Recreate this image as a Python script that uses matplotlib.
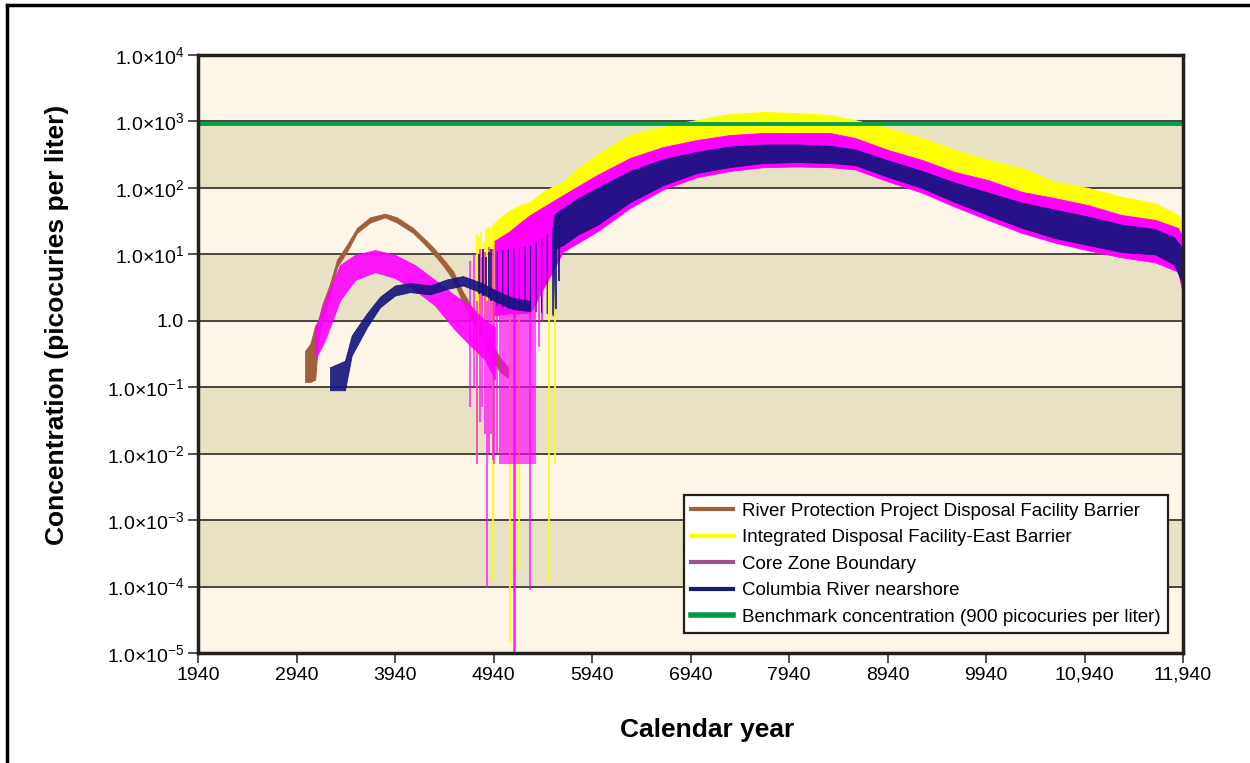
import numpy as np
import matplotlib.pyplot as plt
from matplotlib.lines import Line2D

plt.rcParams['font.family'] = ['Liberation Sans', 'DejaVu Sans']
plt.rcParams['mathtext.fontset'] = 'custom'
plt.rcParams['mathtext.rm'] = 'Liberation Sans'
plt.rcParams['mathtext.default'] = 'regular'
plt.rcParams['hatch.linewidth'] = 0.8

# ---- River Protection Project Disposal Facility Barrier (brown) ----
rpp_years = [3026, 3080, 3130, 3160, 3199, 3280, 3351, 3453, 3554, 3686, 3838, 3960,
             4123, 4224, 4326, 4427, 4529, 4620, 4701, 4803, 4904, 5006, 5087]
rpp_high = [0.35, 0.45, 0.85, 1.0, 1.7, 3.6, 8.3, 14, 25, 36, 41, 36,
            25, 18, 12.8, 8.6, 5.6, 2.9, 1.8, 0.9, 0.5, 0.28, 0.2]
rpp_low = [0.12, 0.12, 0.13, 0.5, 0.9, 2.4, 6.4, 11, 21, 30, 36, 30,
           21, 15, 10.3, 6.8, 4.2, 2.0, 1.15, 0.58, 0.3, 0.17, 0.14]

# ---- Integrated Disposal Facility-East Barrier (yellow) ----
idf_years = [4935, 5000, 5100, 5210, 5310, 5450, 5646, 5800, 5991, 6150, 6326, 6500,
             6661, 6830, 7006, 7170, 7341, 7676, 8021, 8356, 8610, 8945, 9290, 9625,
             9960, 10305, 10640, 10975, 11320, 11656, 11889, 11940]
idf_high = [28, 35, 45, 55, 61, 90, 123, 200, 313, 450, 625, 740,
            824, 950, 1052, 1180, 1294, 1387, 1340, 1250, 1052, 796, 563, 372,
            263, 199, 123, 100, 73, 59, 39, 30]
idf_low = [1.0, 2, 5, 10, 14, 20, 40, 60, 100, 150, 200, 260,
           300, 350, 400, 450, 480, 520, 520, 500, 420, 300, 200, 140,
           100, 70, 55, 42, 32, 26, 19, 15]
idf_spike_years = [4772, 4790, 4815, 4840, 4862, 4885, 4905, 4935, 5107, 5199, 5503, 5564]
idf_spike_low = [0.008, 0.3, 1.0, 0.6, 1.5, 2.0, 1.0, 1.25e-4, 1.4e-5, 1.8e-4, 1.2e-4, 0.007]
idf_spike_high = [20, 18, 22, 16, 24, 26, 25, 28, 40, 50, 80, 100]

# ---- Core Zone Boundary (magenta) ----
czb_old_years = [3128, 3229, 3382, 3534, 3737, 3940, 4143, 4346, 4549, 4701, 4854, 4955]
czb_old_high = [0.73, 2.05, 6.9, 9.8, 11.6, 9.8, 6.9, 4.1, 2.4, 1.7, 1.0, 0.8]
czb_old_low = [0.26, 0.51, 2.05, 4.1, 5.4, 4.4, 2.9, 1.7, 0.73, 0.43, 0.26, 0.13]
czb_years = [4950, 5100, 5210, 5310, 5646, 5991, 6326, 6661, 7006, 7341, 7676, 8021,
             8356, 8610, 8945, 9290, 9625, 9960, 10305, 10640, 10975, 11320, 11656,
             11889, 11940]
czb_high = [16, 22, 30, 39, 78, 156, 282, 412, 526, 625, 670, 670,
            670, 563, 372, 263, 173, 131, 87, 70, 55, 39, 33, 25, 18]
czb_low = [1.2, 1.3, 1.3, 1.3, 11, 22, 50, 95, 145, 180, 205, 210,
           205, 190, 125, 85, 52, 33, 21, 15, 11.5, 9, 7.6, 5.5, 2.5]
czb_block_years = [5000, 5370]
czb_block_high = [3, 3]
czb_block_low = [0.007, 0.007]
czb_spike_years = [4700, 4740, 4772, 4800, 4820, 4850, 4873, 4890, 4910, 4930, 4950,
                   4975, 5148, 5160, 5310, 5400, 5430]
czb_spike_low = [0.05, 0.1, 0.007, 0.03, 0.05, 0.02, 9.5e-5, 0.01, 0.02, 0.008, 0.007,
                 0.01, 1e-5, 1e-5, 9e-5, 0.4, 1.0]
czb_spike_high = [8, 10, 2, 12, 9, 11, 2, 13, 3, 12, 3, 14, 3, 3, 3, 10, 20]

# ---- Columbia River nearshore (navy) ----
crn_old_years = [3280, 3432, 3500, 3656, 3788, 3940, 4092, 4295, 4468, 4630, 4803,
                 4975, 5138, 5310]
crn_old_high = [0.2, 0.25, 0.6, 1.3, 2.3, 3.4, 3.7, 3.4, 4.2, 4.7, 3.8, 2.8, 2.2, 2.0]
crn_old_low = [0.09, 0.09, 0.3, 0.8, 1.6, 2.4, 2.7, 2.5, 3.0, 3.4, 2.7, 1.9, 1.5, 1.4]
crn_block_years = [4935, 5100, 5300, 5450, 5545]
crn_block_high = [11, 12, 13, 18, 26]
crn_block_low = [1.7, 1.5, 1.4, 1.3, 1.2]
crn_years = [5545, 5560, 5646, 5800, 5991, 6326, 6661, 7006,
             7341, 7676, 8021, 8356, 8610, 8945, 9290, 9625, 9960, 10305, 10640,
             10975, 11320, 11656, 11850, 11940]
crn_high = [30, 40, 50, 70, 100, 180, 270, 350,
            420, 450, 450, 430, 380, 260, 180, 120, 85, 60, 47,
            37, 28, 24, 18, 12]
crn_low = [1.2, 12, 13.8, 20, 27.6, 61, 110, 168,
           206, 237, 245, 237, 221, 146, 100, 61, 39, 25, 17.6,
           13.8, 10.8, 10, 7, 3.5]
crn_spike_years = [4790, 4830, 4860, 4890, 4915, 5570, 5600]
crn_spike_low = [2.5, 2.4, 2.6, 2.2, 2.0, 1.5, 4]
crn_spike_high = [10, 12, 9, 11, 12, 40, 45]

benchmark = 900
decades = [1e-5, 1e-4, 1e-3, 1e-2, 1e-1, 1, 10, 100, 1000, 10000]
decade_labels = [r'1.0$\times$10$^{-5}$', r'1.0$\times$10$^{-4}$', r'1.0$\times$10$^{-3}$',
                 r'1.0$\times$10$^{-2}$', r'1.0$\times$10$^{-1}$', '1.0',
                 r'1.0$\times$10$^{1}$', r'1.0$\times$10$^{2}$', r'1.0$\times$10$^{3}$',
                 r'1.0$\times$10$^{4}$']
year_ticks = [1940, 2940, 3940, 4940, 5940, 6940, 7940, 8940, 9940, 10940, 11940]
year_labels = ['1940', '2940', '3940', '4940', '5940', '6940', '7940', '8940', '9940',
               '10,940', '11,940']

brown = '#a0603a'
yellow = '#ffff00'
magenta = '#ff00ff'
navy = '#13137e'

fig = plt.figure(figsize=(12.5, 7.63), dpi=100)
ax = fig.add_axes([0.1584, 0.1442, 0.788, 0.7837])
ax.set_yscale('log')
ax.set_xlim(1940, 11940)
ax.set_ylim(1e-5, 1e4)

# alternating bands
for i in range(len(decades) - 1):
    col = '#e9e1c3' if i % 2 == 1 else '#fdf6e8'
    ax.axhspan(decades[i], decades[i + 1], color=col, zorder=0, lw=0)
for d in decades[1:-1]:
    ax.axhline(d, color='#4a4540', lw=1.4, zorder=1)

# brown
ax.fill_between(rpp_years, rpp_low, rpp_high, color=brown, lw=0.6, zorder=2)

# yellow
ax.vlines(idf_spike_years, idf_spike_low, idf_spike_high, color=yellow, lw=1.2, zorder=2)
ax.fill_between(idf_years, idf_low, idf_high, color=yellow, lw=0.6, zorder=2)

# magenta
ax.fill_between(czb_old_years, czb_old_low, czb_old_high, color=magenta, lw=0.6,
                alpha=0.9, zorder=3)
ax.fill_between(czb_block_years, czb_block_low, czb_block_high, color=magenta, lw=0,
                alpha=0.65, zorder=3)
ax.vlines(czb_spike_years, czb_spike_low, czb_spike_high, color=magenta, lw=1.2,
          alpha=0.8, zorder=3)
ax.fill_between(czb_years, czb_low, czb_high, color=magenta, lw=0.6, zorder=3)

# navy
ax.fill_between(crn_old_years, crn_old_low, crn_old_high, color=navy, lw=0.6,
                alpha=0.9, zorder=4)
ax.fill_between(crn_block_years, crn_block_low, crn_block_high, facecolor='none',
                edgecolor=navy, hatch='|||', lw=0, zorder=4)
ax.vlines(crn_spike_years, crn_spike_low, crn_spike_high, color=navy, lw=1.2, zorder=4)
ax.fill_between(crn_years, crn_low, crn_high, color=navy, lw=0.6, alpha=0.92, zorder=4)

# benchmark
ax.axhline(benchmark, color='#00a14b', lw=2.8, zorder=5)

ax.set_yticks(decades)
ax.set_yticklabels(decade_labels)
ax.minorticks_off()
ax.set_xticks(year_ticks)
ax.set_xticklabels(year_labels)
ax.tick_params(axis='both', labelsize=14, length=7, width=1.2, color='#333333', pad=3)
for s in ax.spines.values():
    s.set_linewidth(2.5)
    s.set_color('#231f1c')
    s.set_zorder(6)

ax.set_xlabel('Calendar year', fontsize=19, fontweight='bold')
ax.xaxis.set_label_coords(0.517, -0.108)
ax.set_ylabel('Concentration (picocuries per liter)', fontsize=19, fontweight='bold')
ax.yaxis.set_label_coords(-0.131, 0.548)

handles = [Line2D([], [], color=brown, lw=3),
           Line2D([], [], color=yellow, lw=3),
           Line2D([], [], color='#a0508c', lw=3),
           Line2D([], [], color='#1a1a6e', lw=3),
           Line2D([], [], color='#009a48', lw=4)]
labels = ['River Protection Project Disposal Facility Barrier',
          'Integrated Disposal Facility-East Barrier',
          'Core Zone Boundary',
          'Columbia River nearshore',
          'Benchmark concentration (900 picocuries per liter)']
leg = ax.legend(handles, labels, loc='lower right', bbox_to_anchor=(0.985, 0.033),
                borderaxespad=0, fontsize=13.5, frameon=True, fancybox=False,
                edgecolor='#231f1c', framealpha=1, handlelength=2.2, borderpad=0.4,
                labelspacing=0.5, handletextpad=0.5)
leg.get_frame().set_linewidth(1.6)
leg.set_zorder(7)

# outer frame
fig.add_artist(Line2D([0.0056, 1.0], [0.9934, 0.9934], color='black', lw=2.5,
                      transform=fig.transFigure))
fig.add_artist(Line2D([0.0056, 0.0056], [0.0, 0.9934], color='black', lw=2.5,
                      transform=fig.transFigure))

fig.savefig('out.png', dpi=100)
